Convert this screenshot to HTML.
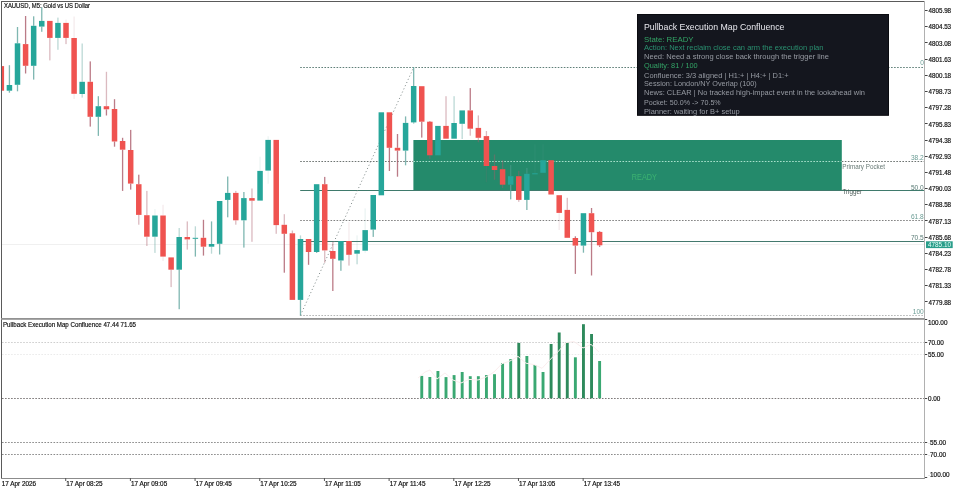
<!DOCTYPE html><html><head><meta charset="utf-8"><style>
html,body{margin:0;padding:0;background:#fff;width:960px;height:490px;overflow:hidden}
.k{stroke:#111;stroke-width:0.18px}
svg{display:block;font-family:"Liberation Sans",sans-serif;will-change:transform}
</style></head><body>
<svg width="960" height="490" viewBox="0 0 960 490">
<rect x="0" y="0" width="960" height="490" fill="#fff"/>
<defs><clipPath id="mc"><rect x="2" y="2" width="922" height="316"/></clipPath>
<clipPath id="sc"><rect x="2" y="320" width="922" height="158"/></clipPath></defs>
<line x1="2" y1="244.5" x2="924" y2="244.5" stroke="#f0f0f0" stroke-width="1"/>
<rect x="413.4" y="140" width="428.4" height="50" fill="#248a6b"/>
<text x="644.3" y="180" font-size="8.4" fill="#3cb371" text-anchor="middle" textLength="25" lengthAdjust="spacingAndGlyphs">READY</text>
<line x1="300.2" y1="67.5" x2="924" y2="67.5" stroke="#5f7f78" stroke-width="1" stroke-dasharray="1.6 1.43"/>
<line x1="300.2" y1="161.5" x2="413.4" y2="161.5" stroke="#6e7472" stroke-width="1" stroke-dasharray="1.6 1.43"/>
<line x1="413.4" y1="161.5" x2="841.8" y2="161.5" stroke="#a8e0cc" stroke-width="1" stroke-dasharray="1.6 1.43"/>
<line x1="841.8" y1="161.5" x2="924" y2="161.5" stroke="#6e7472" stroke-width="1" stroke-dasharray="1.6 1.43"/>
<rect x="300.2" y="190" width="623.8" height="1" fill="#3f7a6c"/>
<line x1="300.2" y1="220.5" x2="924" y2="220.5" stroke="#808080" stroke-width="1" stroke-dasharray="1.6 1.43"/>
<rect x="300.2" y="241" width="623.8" height="1" fill="#44796e"/>
<line x1="300.2" y1="315.5" x2="924" y2="315.5" stroke="#b4b6b6" stroke-width="1" stroke-dasharray="1.6 1.43"/>
<line x1="300.4" y1="315.4" x2="413.7" y2="67.4" stroke="#7a8684" stroke-width="0.9" stroke-dasharray="1.1 2.4"/>
<g clip-path="url(#mc)">
<rect x="-1.42" y="66.10" width="5.5" height="24.60" fill="#ef5350"/>
<rect x="8.77" y="65.20" width="1.3" height="19.80" fill="rgba(95,165,158,0.8)"/>
<rect x="8.77" y="90.70" width="1.3" height="2.00" fill="rgba(95,165,158,0.8)"/>
<rect x="6.67" y="85.00" width="5.5" height="5.70" fill="#26a69a"/>
<rect x="16.85" y="27.00" width="1.3" height="16.30" fill="rgba(95,165,158,0.8)"/>
<rect x="16.85" y="84.80" width="1.3" height="6.50" fill="rgba(95,165,158,0.8)"/>
<rect x="14.75" y="43.30" width="5.5" height="41.50" fill="#26a69a"/>
<rect x="24.94" y="16.00" width="1.3" height="28.10" fill="rgba(170,90,105,0.8)"/>
<rect x="24.94" y="65.80" width="1.3" height="7.70" fill="rgba(170,90,105,0.8)"/>
<rect x="22.84" y="44.10" width="5.5" height="21.70" fill="#ef5350"/>
<rect x="33.02" y="16.30" width="1.3" height="9.50" fill="rgba(95,165,158,0.8)"/>
<rect x="33.02" y="65.80" width="1.3" height="13.80" fill="rgba(95,165,158,0.8)"/>
<rect x="30.92" y="25.80" width="5.5" height="40.00" fill="#26a69a"/>
<rect x="41.11" y="7.30" width="1.3" height="13.60" fill="rgba(95,165,158,0.8)"/>
<rect x="41.11" y="26.60" width="1.3" height="5.20" fill="rgba(95,165,158,0.8)"/>
<rect x="39.01" y="20.90" width="5.5" height="5.70" fill="#26a69a"/>
<rect x="49.19" y="37.90" width="1.3" height="22.50" fill="rgba(170,90,105,0.42)"/>
<rect x="47.09" y="20.90" width="5.5" height="17.00" fill="#ef5350"/>
<rect x="57.28" y="17.60" width="1.3" height="5.30" fill="rgba(95,165,158,0.42)"/>
<rect x="57.28" y="37.90" width="1.3" height="11.90" fill="rgba(95,165,158,0.42)"/>
<rect x="55.18" y="22.90" width="5.5" height="15.00" fill="#26a69a"/>
<rect x="65.36" y="19.60" width="1.3" height="3.30" fill="rgba(170,90,105,0.12)"/>
<rect x="65.36" y="37.90" width="1.3" height="6.20" fill="rgba(170,90,105,0.42)"/>
<rect x="63.26" y="22.90" width="5.5" height="15.00" fill="#ef5350"/>
<rect x="73.45" y="16.50" width="1.3" height="21.50" fill="rgba(170,90,105,0.12)"/>
<rect x="73.45" y="93.80" width="1.3" height="5.20" fill="rgba(170,90,105,0.12)"/>
<rect x="71.35" y="38.00" width="5.5" height="55.80" fill="#ef5350"/>
<rect x="81.53" y="43.50" width="1.3" height="38.30" fill="rgba(95,165,158,0.42)"/>
<rect x="81.53" y="94.00" width="1.3" height="3.60" fill="rgba(95,165,158,0.42)"/>
<rect x="79.43" y="81.80" width="5.5" height="12.20" fill="#26a69a"/>
<rect x="89.61" y="61.40" width="1.3" height="20.40" fill="rgba(170,90,105,0.8)"/>
<rect x="89.61" y="116.80" width="1.3" height="9.80" fill="rgba(170,90,105,0.8)"/>
<rect x="87.52" y="81.80" width="5.5" height="35.00" fill="#ef5350"/>
<rect x="97.70" y="96.20" width="1.3" height="10.00" fill="rgba(95,165,158,0.8)"/>
<rect x="97.70" y="116.80" width="1.3" height="19.10" fill="rgba(95,165,158,0.8)"/>
<rect x="95.60" y="106.20" width="5.5" height="10.60" fill="#26a69a"/>
<rect x="105.79" y="71.80" width="1.3" height="34.40" fill="rgba(170,90,105,0.42)"/>
<rect x="105.79" y="109.30" width="1.3" height="6.20" fill="rgba(170,90,105,0.8)"/>
<rect x="103.69" y="106.20" width="5.5" height="3.10" fill="#ef5350"/>
<rect x="113.87" y="99.20" width="1.3" height="9.80" fill="rgba(170,90,105,0.8)"/>
<rect x="113.87" y="141.50" width="1.3" height="5.20" fill="rgba(170,90,105,0.8)"/>
<rect x="111.77" y="109.00" width="5.5" height="32.50" fill="#ef5350"/>
<rect x="121.95" y="137.80" width="1.3" height="3.20" fill="rgba(170,90,105,0.8)"/>
<rect x="121.95" y="149.70" width="1.3" height="41.20" fill="rgba(170,90,105,0.8)"/>
<rect x="119.86" y="141.00" width="5.5" height="8.70" fill="#ef5350"/>
<rect x="130.04" y="129.90" width="1.3" height="20.10" fill="rgba(170,90,105,0.8)"/>
<rect x="130.04" y="183.60" width="1.3" height="6.00" fill="rgba(170,90,105,0.8)"/>
<rect x="127.94" y="150.00" width="5.5" height="33.60" fill="#ef5350"/>
<rect x="138.13" y="174.70" width="1.3" height="9.50" fill="rgba(170,90,105,0.8)"/>
<rect x="138.13" y="214.90" width="1.3" height="9.80" fill="rgba(170,90,105,0.42)"/>
<rect x="136.03" y="184.20" width="5.5" height="30.70" fill="#ef5350"/>
<rect x="146.21" y="190.90" width="1.3" height="24.30" fill="rgba(170,90,105,0.42)"/>
<rect x="146.21" y="236.70" width="1.3" height="9.30" fill="rgba(170,90,105,0.42)"/>
<rect x="144.11" y="215.20" width="5.5" height="21.50" fill="#ef5350"/>
<rect x="154.30" y="209.10" width="1.3" height="6.40" fill="rgba(95,165,158,0.12)"/>
<rect x="154.30" y="236.70" width="1.3" height="16.20" fill="rgba(95,165,158,0.42)"/>
<rect x="152.20" y="215.50" width="5.5" height="21.20" fill="#26a69a"/>
<rect x="162.38" y="204.80" width="1.3" height="10.70" fill="rgba(170,90,105,0.12)"/>
<rect x="162.38" y="256.60" width="1.3" height="4.40" fill="rgba(170,90,105,0.12)"/>
<rect x="160.28" y="215.50" width="5.5" height="41.10" fill="#ef5350"/>
<rect x="170.47" y="269.70" width="1.3" height="17.40" fill="rgba(170,90,105,0.42)"/>
<rect x="168.37" y="257.40" width="5.5" height="12.30" fill="#ef5350"/>
<rect x="178.55" y="228.00" width="1.3" height="9.00" fill="rgba(95,165,158,0.42)"/>
<rect x="178.55" y="269.70" width="1.3" height="39.50" fill="rgba(95,165,158,0.8)"/>
<rect x="176.45" y="237.00" width="5.5" height="32.70" fill="#26a69a"/>
<rect x="186.64" y="221.40" width="1.3" height="15.60" fill="rgba(170,90,105,0.42)"/>
<rect x="186.64" y="239.40" width="1.3" height="10.20" fill="rgba(170,90,105,0.42)"/>
<rect x="184.54" y="237.00" width="5.5" height="2.40" fill="#ef5350"/>
<rect x="194.72" y="226.30" width="1.3" height="11.50" fill="rgba(95,165,158,0.42)"/>
<rect x="194.72" y="238.70" width="1.3" height="17.90" fill="rgba(95,165,158,0.8)"/>
<rect x="192.62" y="237.80" width="5.5" height="1.00" fill="#26a69a"/>
<rect x="202.81" y="219.80" width="1.3" height="18.00" fill="rgba(170,90,105,0.8)"/>
<rect x="202.81" y="246.70" width="1.3" height="8.90" fill="rgba(170,90,105,0.8)"/>
<rect x="200.71" y="237.80" width="5.5" height="8.90" fill="#ef5350"/>
<rect x="210.89" y="221.40" width="1.3" height="22.60" fill="rgba(95,165,158,0.8)"/>
<rect x="210.89" y="246.70" width="1.3" height="7.00" fill="rgba(95,165,158,0.42)"/>
<rect x="208.79" y="244.00" width="5.5" height="2.70" fill="#26a69a"/>
<rect x="218.98" y="243.80" width="1.3" height="10.70" fill="rgba(95,165,158,0.8)"/>
<rect x="216.88" y="201.00" width="5.5" height="42.80" fill="#26a69a"/>
<rect x="227.06" y="176.50" width="1.3" height="16.40" fill="rgba(95,165,158,0.8)"/>
<rect x="227.06" y="199.90" width="1.3" height="17.40" fill="rgba(95,165,158,0.8)"/>
<rect x="224.96" y="192.90" width="5.5" height="7.00" fill="#26a69a"/>
<rect x="235.15" y="190.90" width="1.3" height="2.00" fill="rgba(170,90,105,0.42)"/>
<rect x="235.15" y="220.30" width="1.3" height="4.40" fill="rgba(170,90,105,0.42)"/>
<rect x="233.05" y="192.90" width="5.5" height="27.40" fill="#ef5350"/>
<rect x="243.23" y="192.00" width="1.3" height="6.10" fill="rgba(95,165,158,0.8)"/>
<rect x="243.23" y="220.30" width="1.3" height="27.30" fill="rgba(95,165,158,0.8)"/>
<rect x="241.13" y="198.10" width="5.5" height="22.20" fill="#26a69a"/>
<rect x="251.32" y="188.50" width="1.3" height="9.60" fill="rgba(170,90,105,0.42)"/>
<rect x="251.32" y="200.70" width="1.3" height="41.10" fill="rgba(170,90,105,0.42)"/>
<rect x="249.22" y="198.10" width="5.5" height="2.60" fill="#ef5350"/>
<rect x="259.40" y="156.70" width="1.3" height="14.20" fill="rgba(95,165,158,0.12)"/>
<rect x="257.30" y="170.90" width="5.5" height="29.70" fill="#26a69a"/>
<rect x="267.49" y="136.30" width="1.3" height="3.60" fill="rgba(95,165,158,0.12)"/>
<rect x="267.49" y="170.60" width="1.3" height="13.10" fill="rgba(95,165,158,0.12)"/>
<rect x="265.38" y="139.90" width="5.5" height="30.70" fill="#26a69a"/>
<rect x="275.57" y="225.10" width="1.3" height="8.70" fill="rgba(170,90,105,0.42)"/>
<rect x="273.47" y="139.90" width="5.5" height="85.20" fill="#ef5350"/>
<rect x="283.66" y="214.20" width="1.3" height="10.60" fill="rgba(170,90,105,0.42)"/>
<rect x="283.66" y="233.80" width="1.3" height="38.90" fill="rgba(170,90,105,0.8)"/>
<rect x="281.56" y="224.80" width="5.5" height="9.00" fill="#ef5350"/>
<rect x="291.74" y="230.50" width="1.3" height="2.80" fill="rgba(170,90,105,0.42)"/>
<rect x="289.64" y="233.30" width="5.5" height="66.60" fill="#ef5350"/>
<rect x="299.83" y="235.40" width="1.3" height="3.60" fill="rgba(95,165,158,0.42)"/>
<rect x="299.83" y="299.90" width="1.3" height="15.50" fill="rgba(95,165,158,0.8)"/>
<rect x="297.73" y="239.00" width="5.5" height="60.90" fill="#26a69a"/>
<rect x="307.91" y="252.00" width="1.3" height="12.80" fill="rgba(170,90,105,0.8)"/>
<rect x="305.81" y="239.00" width="5.5" height="13.00" fill="#ef5350"/>
<rect x="316.00" y="252.00" width="1.3" height="0.90" fill="rgba(95,165,158,0.8)"/>
<rect x="313.90" y="184.20" width="5.5" height="67.80" fill="#26a69a"/>
<rect x="324.08" y="176.90" width="1.3" height="7.30" fill="rgba(170,90,105,0.8)"/>
<rect x="324.08" y="250.40" width="1.3" height="12.40" fill="rgba(170,90,105,0.42)"/>
<rect x="321.98" y="184.20" width="5.5" height="66.20" fill="#ef5350"/>
<rect x="332.17" y="241.80" width="1.3" height="9.20" fill="rgba(170,90,105,0.42)"/>
<rect x="332.17" y="258.80" width="1.3" height="32.20" fill="rgba(170,90,105,0.8)"/>
<rect x="330.06" y="251.00" width="5.5" height="7.80" fill="#ef5350"/>
<rect x="340.25" y="260.50" width="1.3" height="10.30" fill="rgba(95,165,158,0.8)"/>
<rect x="338.15" y="241.00" width="5.5" height="19.50" fill="#26a69a"/>
<rect x="348.34" y="222.00" width="1.3" height="19.00" fill="rgba(170,90,105,0.12)"/>
<rect x="348.34" y="254.80" width="1.3" height="10.80" fill="rgba(170,90,105,0.42)"/>
<rect x="346.24" y="241.00" width="5.5" height="13.80" fill="#ef5350"/>
<rect x="356.42" y="235.30" width="1.3" height="14.80" fill="rgba(95,165,158,0.12)"/>
<rect x="356.42" y="253.70" width="1.3" height="10.60" fill="rgba(95,165,158,0.42)"/>
<rect x="354.32" y="250.10" width="5.5" height="3.60" fill="#26a69a"/>
<rect x="364.51" y="208.40" width="1.3" height="21.70" fill="rgba(95,165,158,0.12)"/>
<rect x="364.51" y="250.70" width="1.3" height="2.20" fill="rgba(95,165,158,0.12)"/>
<rect x="362.41" y="230.10" width="5.5" height="20.60" fill="#26a69a"/>
<rect x="372.59" y="229.60" width="1.3" height="7.30" fill="rgba(95,165,158,0.8)"/>
<rect x="370.49" y="195.00" width="5.5" height="34.60" fill="#26a69a"/>
<rect x="378.58" y="112.30" width="5.5" height="83.00" fill="#26a69a"/>
<rect x="388.76" y="147.80" width="1.3" height="23.20" fill="rgba(170,90,105,0.8)"/>
<rect x="386.66" y="112.30" width="5.5" height="35.50" fill="#ef5350"/>
<rect x="396.85" y="134.00" width="1.3" height="13.80" fill="rgba(170,90,105,0.8)"/>
<rect x="396.85" y="150.60" width="1.3" height="26.10" fill="rgba(170,90,105,0.8)"/>
<rect x="394.75" y="147.80" width="5.5" height="2.80" fill="#ef5350"/>
<rect x="404.93" y="116.40" width="1.3" height="6.50" fill="rgba(95,165,158,0.8)"/>
<rect x="404.93" y="150.60" width="1.3" height="14.70" fill="rgba(95,165,158,0.8)"/>
<rect x="402.83" y="122.90" width="5.5" height="27.70" fill="#26a69a"/>
<rect x="413.02" y="67.10" width="1.3" height="18.90" fill="rgba(95,165,158,0.8)"/>
<rect x="413.02" y="122.40" width="1.3" height="1.10" fill="rgba(95,165,158,0.8)"/>
<rect x="410.92" y="86.00" width="5.5" height="36.40" fill="#26a69a"/>
<rect x="421.10" y="121.70" width="1.3" height="15.90" fill="rgba(170,90,105,0.8)"/>
<rect x="419.00" y="86.20" width="5.5" height="35.50" fill="#ef5350"/>
<rect x="429.19" y="121.00" width="1.3" height="0.70" fill="rgba(170,90,105,0.8)"/>
<rect x="429.19" y="155.30" width="1.3" height="3.50" fill="rgba(170,90,105,0.42)"/>
<rect x="427.09" y="121.70" width="5.5" height="33.60" fill="#ef5350"/>
<rect x="435.17" y="125.90" width="5.5" height="29.40" fill="#26a69a"/>
<rect x="445.36" y="96.20" width="1.3" height="29.70" fill="rgba(170,90,105,0.42)"/>
<rect x="443.26" y="125.90" width="5.5" height="12.80" fill="#ef5350"/>
<rect x="453.44" y="96.20" width="1.3" height="26.80" fill="rgba(95,165,158,0.42)"/>
<rect x="451.34" y="123.00" width="5.5" height="15.70" fill="#26a69a"/>
<rect x="461.53" y="123.80" width="1.3" height="15.20" fill="rgba(95,165,158,0.42)"/>
<rect x="459.43" y="110.40" width="5.5" height="13.40" fill="#26a69a"/>
<rect x="469.61" y="88.10" width="1.3" height="22.30" fill="rgba(170,90,105,0.8)"/>
<rect x="469.61" y="128.70" width="1.3" height="7.00" fill="rgba(170,90,105,0.42)"/>
<rect x="467.51" y="110.40" width="5.5" height="18.30" fill="#ef5350"/>
<rect x="477.70" y="115.40" width="1.3" height="12.50" fill="rgba(170,90,105,0.42)"/>
<rect x="477.70" y="137.80" width="1.3" height="4.40" fill="rgba(170,90,105,0.42)"/>
<rect x="475.60" y="127.90" width="5.5" height="9.90" fill="#ef5350"/>
<rect x="485.78" y="131.00" width="1.3" height="5.10" fill="rgba(170,90,105,0.42)"/>
<rect x="485.78" y="166.00" width="1.3" height="16.20" fill="rgba(170,90,105,0.12)"/>
<rect x="483.68" y="136.10" width="5.5" height="29.90" fill="#ef5350"/>
<rect x="493.87" y="154.50" width="1.3" height="11.50" fill="rgba(170,90,105,0.42)"/>
<rect x="493.87" y="170.00" width="1.3" height="9.80" fill="rgba(170,90,105,0.42)"/>
<rect x="491.77" y="166.00" width="5.5" height="4.00" fill="#ef5350"/>
<rect x="501.95" y="160.20" width="1.3" height="9.00" fill="rgba(170,90,105,0.42)"/>
<rect x="501.95" y="184.70" width="1.3" height="3.30" fill="rgba(170,90,105,0.42)"/>
<rect x="499.85" y="169.20" width="5.5" height="15.50" fill="#ef5350"/>
<rect x="510.04" y="165.10" width="1.3" height="11.10" fill="rgba(95,165,158,0.42)"/>
<rect x="510.04" y="184.70" width="1.3" height="14.70" fill="rgba(95,165,158,0.8)"/>
<rect x="507.94" y="176.20" width="5.5" height="8.50" fill="#26a69a"/>
<rect x="518.12" y="170.80" width="1.3" height="5.40" fill="rgba(170,90,105,0.42)"/>
<rect x="518.12" y="199.90" width="1.3" height="1.90" fill="rgba(170,90,105,0.42)"/>
<rect x="516.02" y="176.20" width="5.5" height="23.70" fill="#ef5350"/>
<rect x="526.21" y="167.90" width="1.3" height="5.90" fill="rgba(95,165,158,0.42)"/>
<rect x="526.21" y="199.90" width="1.3" height="10.10" fill="rgba(95,165,158,0.8)"/>
<rect x="524.11" y="173.80" width="5.5" height="26.10" fill="#26a69a"/>
<rect x="534.29" y="144.30" width="1.3" height="29.00" fill="rgba(95,165,158,0.12)"/>
<rect x="532.19" y="173.30" width="5.5" height="1.00" fill="#26a69a"/>
<rect x="542.38" y="144.30" width="1.3" height="15.90" fill="rgba(95,165,158,0.12)"/>
<rect x="540.28" y="160.20" width="5.5" height="12.60" fill="#26a69a"/>
<rect x="548.36" y="160.20" width="5.5" height="34.30" fill="#ef5350"/>
<rect x="558.55" y="212.90" width="1.3" height="17.10" fill="rgba(170,90,105,0.12)"/>
<rect x="556.45" y="195.20" width="5.5" height="17.70" fill="#ef5350"/>
<rect x="566.63" y="197.80" width="1.3" height="12.10" fill="rgba(170,90,105,0.42)"/>
<rect x="564.53" y="209.90" width="5.5" height="27.90" fill="#ef5350"/>
<rect x="574.72" y="236.30" width="1.3" height="1.70" fill="rgba(170,90,105,0.8)"/>
<rect x="574.72" y="245.60" width="1.3" height="28.30" fill="rgba(170,90,105,0.8)"/>
<rect x="572.62" y="238.00" width="5.5" height="7.60" fill="#ef5350"/>
<rect x="582.80" y="245.60" width="1.3" height="7.10" fill="rgba(95,165,158,0.8)"/>
<rect x="580.70" y="213.20" width="5.5" height="32.40" fill="#26a69a"/>
<rect x="590.89" y="208.00" width="1.3" height="5.20" fill="rgba(170,90,105,0.8)"/>
<rect x="590.89" y="232.20" width="1.3" height="43.30" fill="rgba(170,90,105,0.8)"/>
<rect x="588.79" y="213.20" width="5.5" height="19.00" fill="#ef5350"/>
<rect x="598.97" y="231.10" width="1.3" height="0.80" fill="rgba(170,90,105,0.8)"/>
<rect x="598.97" y="245.30" width="1.3" height="1.60" fill="rgba(170,90,105,0.8)"/>
<rect x="596.87" y="231.90" width="5.5" height="13.40" fill="#ef5350"/>
</g>
<text x="923.8" y="65.2" font-size="6.6" fill="#6a9c94" text-anchor="end">0</text>
<text x="923.8" y="160.0" font-size="6.6" fill="#6a9c94" text-anchor="end">38.2</text>
<text x="923.8" y="189.5" font-size="6.6" fill="#587a74" text-anchor="end">50.0</text>
<text x="923.8" y="219.0" font-size="6.6" fill="#6a9c94" text-anchor="end">61.8</text>
<text x="923.8" y="239.7" font-size="6.6" fill="#587a74" text-anchor="end">70.5</text>
<text x="923.8" y="313.6" font-size="6.6" fill="#6a9c94" text-anchor="end">100</text>
<text x="842.2" y="169.3" font-size="6.6" fill="#687a76" textLength="42.8" lengthAdjust="spacingAndGlyphs">Primary Pocket</text>
<text x="842.4" y="194" font-size="6.6" fill="#4a5a56" textLength="19.8" lengthAdjust="spacingAndGlyphs">Trigger</text>
<rect x="637.5" y="14.5" width="251" height="100.8" fill="#14161e" stroke="#0a0b10" stroke-width="1"/>
<text x="644.0" y="30.0" font-size="9.2" fill="#e8e8ee" textLength="140.4" lengthAdjust="spacingAndGlyphs">Pullback Execution Map Confluence</text>
<text x="644.0" y="41.8" font-size="8.1" fill="#33a466" textLength="49.6" lengthAdjust="spacingAndGlyphs">State: READY</text>
<text x="644.0" y="49.7" font-size="7.1" fill="#2a9070" textLength="179.5" lengthAdjust="spacingAndGlyphs">Action: Next reclaim close can arm the execution plan</text>
<text x="644.0" y="59.2" font-size="7.1" fill="#979ba3" textLength="185.0" lengthAdjust="spacingAndGlyphs">Need: Need a strong close back through the trigger line</text>
<text x="644.0" y="68.1" font-size="7.1" fill="#33a466" textLength="53.7" lengthAdjust="spacingAndGlyphs">Quality: 81 / 100</text>
<text x="644.0" y="77.6" font-size="7.1" fill="#979ba3" textLength="144.5" lengthAdjust="spacingAndGlyphs">Confluence: 3/3 aligned | H1:+ | H4:+ | D1:+</text>
<text x="644.0" y="86.3" font-size="7.1" fill="#979ba3" textLength="112.8" lengthAdjust="spacingAndGlyphs">Session: London/NY Overlap (100)</text>
<text x="644.0" y="95.2" font-size="7.1" fill="#979ba3" textLength="221.0" lengthAdjust="spacingAndGlyphs">News: CLEAR | No tracked high-impact event in the lookahead win</text>
<text x="644.0" y="104.6" font-size="7.1" fill="#979ba3" textLength="76.7" lengthAdjust="spacingAndGlyphs">Pocket: 50.0% -&gt; 70.5%</text>
<text x="644.0" y="113.6" font-size="7.1" fill="#979ba3" textLength="95.7" lengthAdjust="spacingAndGlyphs">Planner: waiting for B+ setup</text>
<text x="4" y="8.2" font-size="6.6" fill="#111" class="k" textLength="86" lengthAdjust="spacingAndGlyphs">XAUUSD, M5:  Gold vs US Dollar</text>
<rect x="1" y="1" width="923.6" height="1" fill="#5a5a5a"/>
<rect x="1" y="1" width="1" height="478" fill="#5a5a5a"/>
<rect x="924" y="1" width="1" height="478" fill="#b0b0b0"/>
<rect x="1" y="318" width="923.6" height="1.8" fill="#929292"/>
<rect x="1" y="478" width="923.6" height="1" fill="#8c8c8c"/>
<rect x="925" y="10" width="2.6" height="1" fill="#444"/>
<text x="928.5" y="13.30" font-size="6.4" fill="#111" class="k" textLength="22.6" lengthAdjust="spacingAndGlyphs">4805.98</text>
<rect x="925" y="26" width="2.6" height="1" fill="#444"/>
<text x="928.5" y="29.48" font-size="6.4" fill="#111" class="k" textLength="22.6" lengthAdjust="spacingAndGlyphs">4804.53</text>
<rect x="925" y="42" width="2.6" height="1" fill="#444"/>
<text x="928.5" y="45.66" font-size="6.4" fill="#111" class="k" textLength="22.6" lengthAdjust="spacingAndGlyphs">4803.08</text>
<rect x="925" y="59" width="2.6" height="1" fill="#444"/>
<text x="928.5" y="61.84" font-size="6.4" fill="#111" class="k" textLength="22.6" lengthAdjust="spacingAndGlyphs">4801.63</text>
<rect x="925" y="75" width="2.6" height="1" fill="#444"/>
<text x="928.5" y="78.02" font-size="6.4" fill="#111" class="k" textLength="22.6" lengthAdjust="spacingAndGlyphs">4800.18</text>
<rect x="925" y="91" width="2.6" height="1" fill="#444"/>
<text x="928.5" y="94.20" font-size="6.4" fill="#111" class="k" textLength="22.6" lengthAdjust="spacingAndGlyphs">4798.73</text>
<rect x="925" y="107" width="2.6" height="1" fill="#444"/>
<text x="928.5" y="110.38" font-size="6.4" fill="#111" class="k" textLength="22.6" lengthAdjust="spacingAndGlyphs">4797.28</text>
<rect x="925" y="123" width="2.6" height="1" fill="#444"/>
<text x="928.5" y="126.56" font-size="6.4" fill="#111" class="k" textLength="22.6" lengthAdjust="spacingAndGlyphs">4795.83</text>
<rect x="925" y="140" width="2.6" height="1" fill="#444"/>
<text x="928.5" y="142.74" font-size="6.4" fill="#111" class="k" textLength="22.6" lengthAdjust="spacingAndGlyphs">4794.38</text>
<rect x="925" y="156" width="2.6" height="1" fill="#444"/>
<text x="928.5" y="158.92" font-size="6.4" fill="#111" class="k" textLength="22.6" lengthAdjust="spacingAndGlyphs">4792.93</text>
<rect x="925" y="172" width="2.6" height="1" fill="#444"/>
<text x="928.5" y="175.10" font-size="6.4" fill="#111" class="k" textLength="22.6" lengthAdjust="spacingAndGlyphs">4791.48</text>
<rect x="925" y="188" width="2.6" height="1" fill="#444"/>
<text x="928.5" y="191.28" font-size="6.4" fill="#111" class="k" textLength="22.6" lengthAdjust="spacingAndGlyphs">4790.03</text>
<rect x="925" y="204" width="2.6" height="1" fill="#444"/>
<text x="928.5" y="207.46" font-size="6.4" fill="#111" class="k" textLength="22.6" lengthAdjust="spacingAndGlyphs">4788.58</text>
<rect x="925" y="220" width="2.6" height="1" fill="#444"/>
<text x="928.5" y="223.64" font-size="6.4" fill="#111" class="k" textLength="22.6" lengthAdjust="spacingAndGlyphs">4787.13</text>
<rect x="925" y="237" width="2.6" height="1" fill="#444"/>
<text x="928.5" y="239.82" font-size="6.4" fill="#111" class="k" textLength="22.6" lengthAdjust="spacingAndGlyphs">4785.68</text>
<rect x="925" y="253" width="2.6" height="1" fill="#444"/>
<text x="928.5" y="256.00" font-size="6.4" fill="#111" class="k" textLength="22.6" lengthAdjust="spacingAndGlyphs">4784.23</text>
<rect x="925" y="269" width="2.6" height="1" fill="#444"/>
<text x="928.5" y="272.18" font-size="6.4" fill="#111" class="k" textLength="22.6" lengthAdjust="spacingAndGlyphs">4782.78</text>
<rect x="925" y="285" width="2.6" height="1" fill="#444"/>
<text x="928.5" y="288.36" font-size="6.4" fill="#111" class="k" textLength="22.6" lengthAdjust="spacingAndGlyphs">4781.33</text>
<rect x="925" y="301" width="2.6" height="1" fill="#444"/>
<text x="928.5" y="304.54" font-size="6.4" fill="#111" class="k" textLength="22.6" lengthAdjust="spacingAndGlyphs">4779.88</text>
<rect x="926" y="241.3" width="26.7" height="6.8" fill="#2a9d8a"/>
<text x="928" y="247" font-size="6.4" fill="#e8fff8" textLength="23" lengthAdjust="spacingAndGlyphs">4785.10</text>
<line x1="2" y1="342.5" x2="924" y2="342.5" stroke="#cecece" stroke-width="1" stroke-dasharray="1.6 1.43"/>
<line x1="2" y1="354.5" x2="924" y2="354.5" stroke="#ebebeb" stroke-width="1" stroke-dasharray="1.6 1.43"/>
<line x1="2" y1="398.5" x2="924" y2="398.5" stroke="#7c7878" stroke-width="1" stroke-dasharray="1.6 1.43"/>
<line x1="2" y1="442.5" x2="924" y2="442.5" stroke="#8a8a8a" stroke-width="1" stroke-dasharray="1.6 1.43"/>
<line x1="2" y1="454.5" x2="924" y2="454.5" stroke="#8a8a8a" stroke-width="1" stroke-dasharray="1.6 1.43"/>
<rect x="420.30" y="375.90" width="2.9" height="22.30" fill="#3aa872"/>
<rect x="428.39" y="377.00" width="2.9" height="21.20" fill="#3aa872"/>
<rect x="436.47" y="371.00" width="2.9" height="27.20" fill="#3aa872"/>
<rect x="444.56" y="377.10" width="2.9" height="21.10" fill="#3aa872"/>
<rect x="452.64" y="375.10" width="2.9" height="23.10" fill="#3aa872"/>
<rect x="460.73" y="372.00" width="2.9" height="26.20" fill="#3aa872"/>
<rect x="468.81" y="376.20" width="2.9" height="22.00" fill="#3aa872"/>
<rect x="476.90" y="376.20" width="2.9" height="22.00" fill="#3aa872"/>
<rect x="484.98" y="375.10" width="2.9" height="23.10" fill="#3aa872"/>
<rect x="493.07" y="374.20" width="2.9" height="24.00" fill="#3aa872"/>
<rect x="501.15" y="363.20" width="2.9" height="35.00" fill="#3aa872"/>
<rect x="509.24" y="359.10" width="2.9" height="39.10" fill="#3aa872"/>
<rect x="517.32" y="342.90" width="2.9" height="55.30" fill="#2e8a5c"/>
<rect x="525.41" y="356.00" width="2.9" height="42.20" fill="#3aa872"/>
<rect x="533.49" y="365.00" width="2.9" height="33.20" fill="#3aa872"/>
<rect x="541.58" y="372.00" width="2.9" height="26.20" fill="#3aa872"/>
<rect x="549.66" y="344.00" width="2.9" height="54.20" fill="#2e8a5c"/>
<rect x="557.75" y="332.50" width="2.9" height="65.70" fill="#2e8a5c"/>
<rect x="565.83" y="342.00" width="2.9" height="56.20" fill="#2e8a5c"/>
<rect x="573.92" y="357.30" width="2.9" height="40.90" fill="#3aa872"/>
<rect x="582.00" y="324.20" width="2.9" height="74.00" fill="#2e8a5c"/>
<rect x="590.09" y="334.00" width="2.9" height="64.20" fill="#2e8a5c"/>
<rect x="598.17" y="361.00" width="2.9" height="37.20" fill="#3aa872"/>
<text x="3" y="327" font-size="6.6" fill="#111" class="k" textLength="133" lengthAdjust="spacingAndGlyphs">Pullback Execution Map Confluence 47.44 71.65</text>
<rect x="925" y="319" width="2.2" height="1" fill="#444"/>
<text x="927.9" y="325.20" font-size="6.4" fill="#111" class="k">100.00</text>
<rect x="925" y="342" width="2.2" height="1" fill="#444"/>
<text x="927.9" y="345.20" font-size="6.4" fill="#111" class="k">70.00</text>
<rect x="925" y="354" width="2.2" height="1" fill="#444"/>
<text x="927.9" y="357.20" font-size="6.4" fill="#111" class="k">55.00</text>
<rect x="925" y="398" width="2.2" height="1" fill="#444"/>
<text x="927.9" y="400.90" font-size="6.4" fill="#111" class="k">0.00</text>
<rect x="925" y="442" width="2.2" height="1" fill="#444"/>
<text x="927.9" y="444.80" font-size="6.4" fill="#111" class="k"><tspan fill="#c4c4c4" stroke="none">-</tspan>55.00</text>
<rect x="925" y="454" width="2.2" height="1" fill="#444"/>
<text x="927.9" y="456.80" font-size="6.4" fill="#111" class="k"><tspan fill="#c4c4c4" stroke="none">-</tspan>70.00</text>
<rect x="925" y="477" width="2.2" height="1" fill="#444"/>
<text x="927.9" y="477.10" font-size="6.4" fill="#111" class="k"><tspan fill="#c4c4c4" stroke="none">-</tspan>100.00</text>
<polyline points="418,378 425,372 430,370 437,379 445,373 453,380 461,383 469,379.4 478,380 486,377 494,372 502,363.7 510,361 518,356.4 526,363.2 534,364.6 542,368.3 550,359.7 558,351.8 566,342.6 574,341.6 583,348 591,344.4 599,352" fill="none" stroke="#fbeeee" stroke-width="1"/>
<text x="1.63" y="486" font-size="6.4" fill="#111" class="k">17 Apr 2026</text>
<rect x="65.21" y="478" width="1" height="3" fill="#555"/>
<text x="66.31" y="486" font-size="6.4" fill="#111" class="k">17 Apr 08:25</text>
<rect x="129.89" y="478" width="1" height="3" fill="#555"/>
<text x="130.99" y="486" font-size="6.4" fill="#111" class="k">17 Apr 09:05</text>
<rect x="194.57" y="478" width="1" height="3" fill="#555"/>
<text x="195.67" y="486" font-size="6.4" fill="#111" class="k">17 Apr 09:45</text>
<rect x="259.25" y="478" width="1" height="3" fill="#555"/>
<text x="260.35" y="486" font-size="6.4" fill="#111" class="k">17 Apr 10:25</text>
<rect x="323.93" y="478" width="1" height="3" fill="#555"/>
<text x="325.03" y="486" font-size="6.4" fill="#111" class="k">17 Apr 11:05</text>
<rect x="388.61" y="478" width="1" height="3" fill="#555"/>
<text x="389.71" y="486" font-size="6.4" fill="#111" class="k">17 Apr 11:45</text>
<rect x="453.29" y="478" width="1" height="3" fill="#555"/>
<text x="454.39" y="486" font-size="6.4" fill="#111" class="k">17 Apr 12:25</text>
<rect x="517.97" y="478" width="1" height="3" fill="#555"/>
<text x="519.07" y="486" font-size="6.4" fill="#111" class="k">17 Apr 13:05</text>
<rect x="582.65" y="478" width="1" height="3" fill="#555"/>
<text x="583.75" y="486" font-size="6.4" fill="#111" class="k">17 Apr 13:45</text>
</svg></body></html>
